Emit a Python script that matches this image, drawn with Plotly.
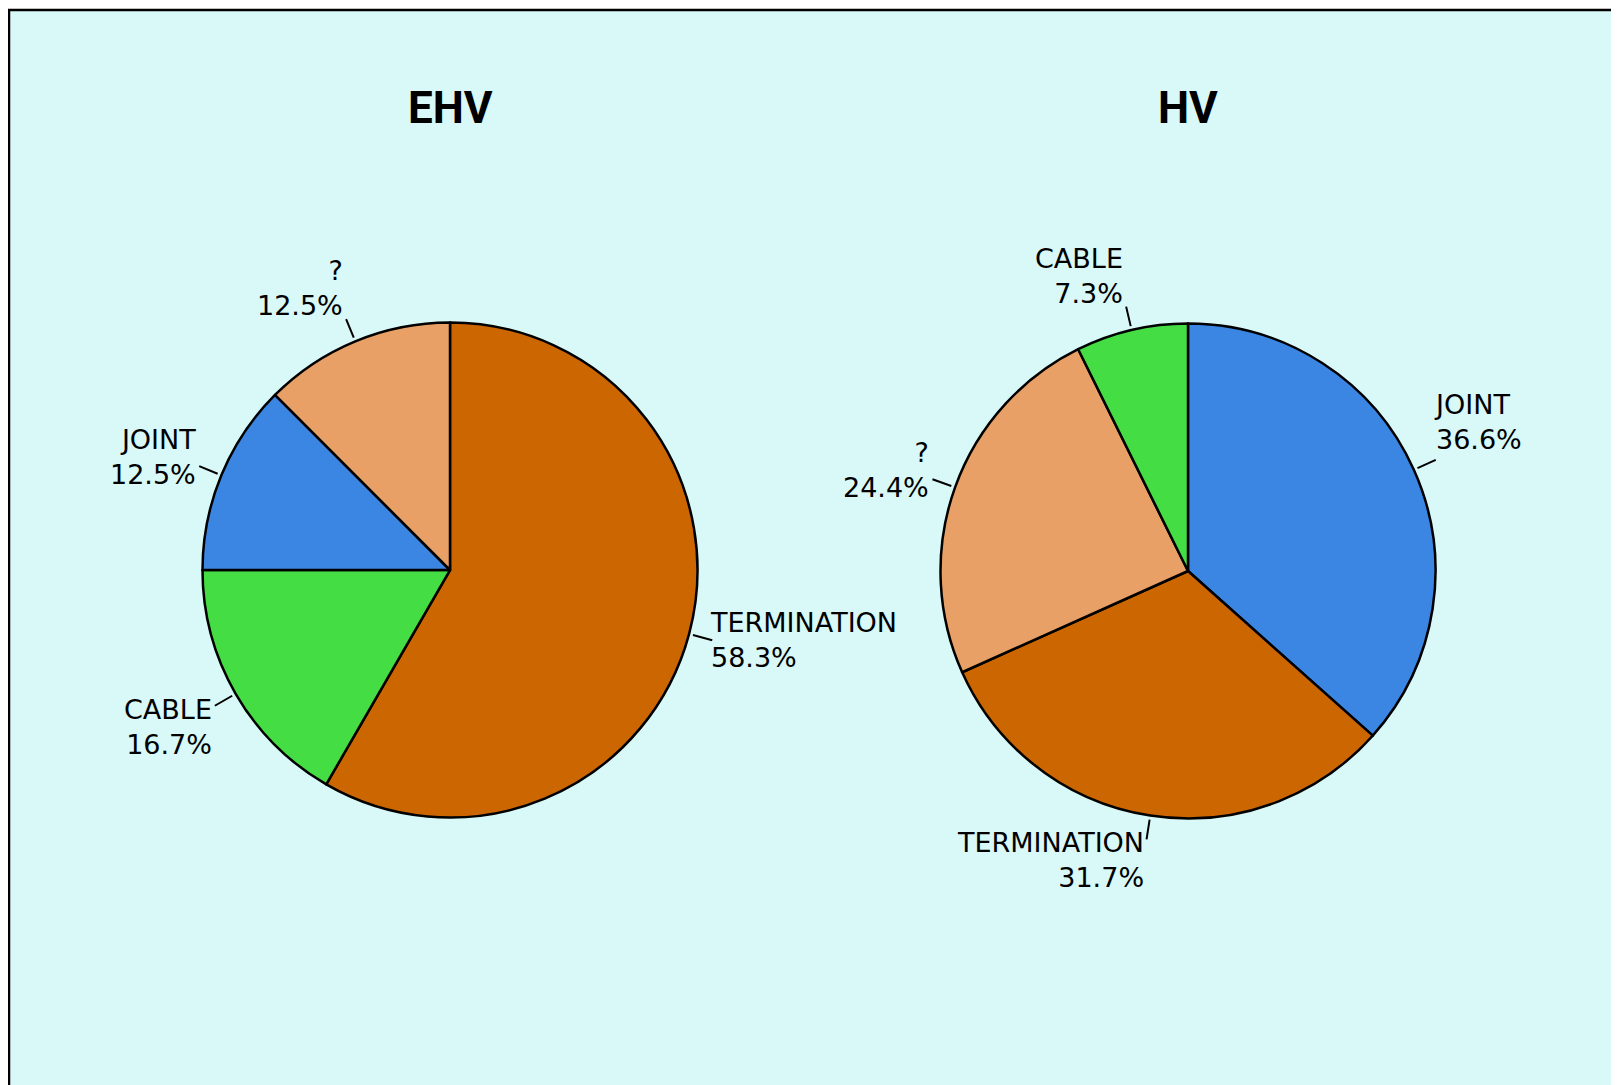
import math
import plotly.graph_objects as go

# failure counts per component
EHV_LABELS = ["TERMINATION", "CABLE", "JOINT", "?"]
EHV_COUNTS = [14, 4, 3, 3]
HV_LABELS = ["JOINT", "TERMINATION", "?", "CABLE"]
HV_COUNTS = [15, 13, 10, 3]
TITLES = ["EHV", "HV"]

COLORS = {
    "TERMINATION": "#CC6600",
    "CABLE": "#44DD44",
    "JOINT": "#3A86E2",
    "?": "#E8A066",
}
BG = "#D9F8F8"

# page body keeps its default 8px margin, so the figure sits at (8, 8)
W, H = 1640, 1077
OX, OY = 8, 8
R = 247.5
CENTERS = [(450, 570), (1188, 571)]  # window pixels
TITLE_Y = 108

FONT = "DejaVu Sans, Verdana, sans-serif"

fig = go.Figure()
annotations = []
line_x, line_y = [], []

for (labels, counts), title, (cx, cy) in zip(
    [(EHV_LABELS, EHV_COUNTS), (HV_LABELS, HV_COUNTS)], TITLES, CENTERS
):
    px_, py_ = cx - OX, cy - OY
    fig.add_trace(go.Pie(
        labels=labels,
        values=counts,
        sort=False,
        direction="clockwise",
        rotation=0,
        textinfo="none",
        marker=dict(colors=[COLORS[c] for c in labels], line=dict(color="black", width=2.5)),
        domain=dict(x=[(px_ - R) / W, (px_ + R) / W], y=[1 - (py_ + R) / H, 1 - (py_ - R) / H]),
        showlegend=False,
        hovertemplate="%{label}: %{value} (%{percent})<extra></extra>",
    ))

    annotations.append(dict(
        x=px_, y=TITLE_Y - OY, xref="x", yref="y", text=f"<b>{title}</b>",
        showarrow=False, font=dict(family="Roboto, " + FONT, size=44, color="black"),
    ))

    # leader lines and labels, placed at each slice's mid angle
    total = sum(counts)
    start = 0.0
    for lab, n in zip(labels, counts):
        frac = n / total
        mid = (start + frac / 2) * 2 * math.pi
        start += frac
        s, c = math.sin(mid), math.cos(mid)
        x1, y1 = px_ + (R + 4) * s, py_ - (R + 4) * c
        x2, y2 = px_ + (R + 24) * s, py_ - (R + 24) * c
        line_x += [x1, x2, None]
        line_y += [y1, y2, None]
        xanchor = "left" if s > 0 else "right"
        yanchor = "bottom" if c > 0.4 else ("top" if c < -0.4 else "middle")
        if yanchor == "top":
            dy = 14
        elif yanchor == "bottom":
            dy = 3 if s > 0 else -4
        else:
            dy = 9 if s < 0 else 0
        annotations.append(dict(
            x=x2 + (-4 if s > 0 else -1), y=y2, xref="x", yref="y",
            text=f"{lab}<br>{frac * 100:.1f}%",
            xanchor=xanchor, yanchor=yanchor, align=xanchor, yshift=dy,
            showarrow=False, font=dict(family=FONT, size=27, color="black"),
        ))

fig.add_trace(go.Scatter(
    x=line_x, y=line_y, mode="lines",
    line=dict(color="black", width=2),
    hoverinfo="skip", showlegend=False,
))

fig.update_layout(
    width=W, height=H,
    margin=dict(l=0, r=0, t=0, b=0),
    paper_bgcolor="white",
    plot_bgcolor="rgba(0,0,0,0)",
    xaxis=dict(range=[0, W], visible=False, fixedrange=True),
    yaxis=dict(range=[H, 0], visible=False, fixedrange=True),
    annotations=annotations,
    shapes=[dict(
        type="rect", xref="paper", yref="paper",
        x0=1 / W, x1=1.2, y0=-0.2, y1=1 - (10 - OY) / H,
        fillcolor=BG, line=dict(color="black", width=2.5), layer="below",
    )],
)

fig.write_html("out.html")
